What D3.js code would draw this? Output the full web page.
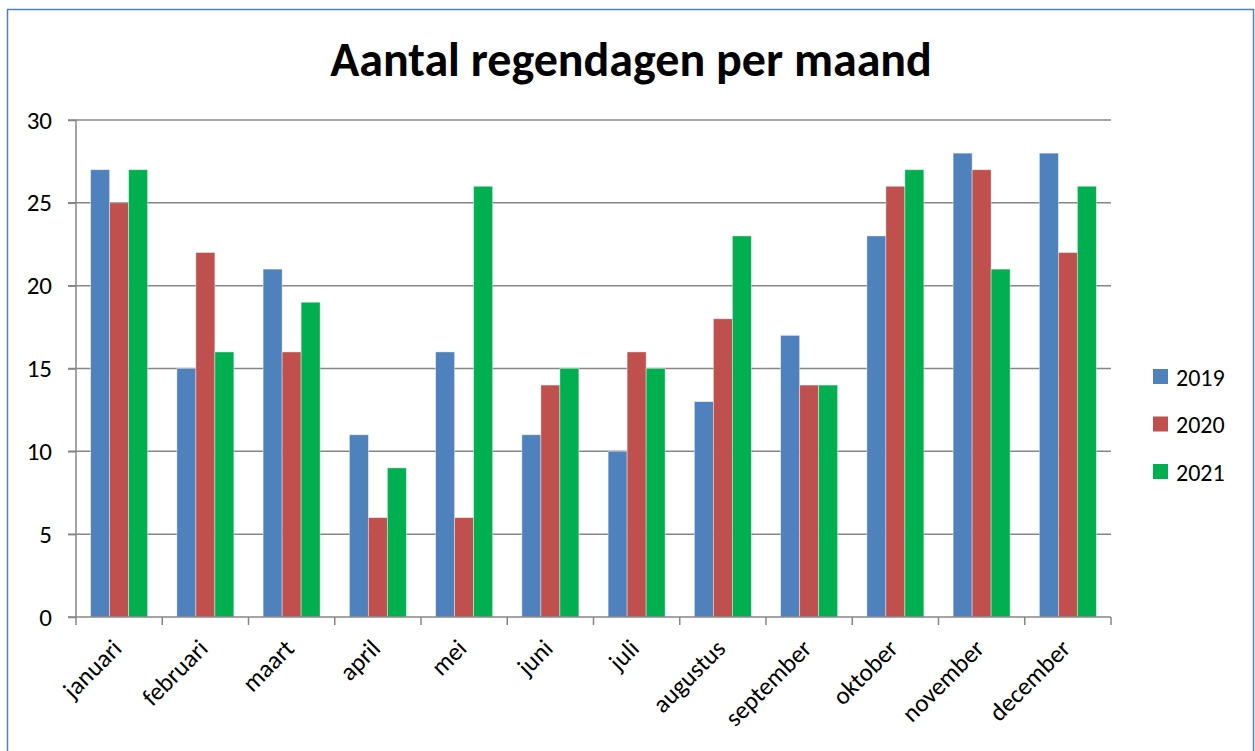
<!DOCTYPE html>
<meta charset="utf-8">
<title>Aantal regendagen per maand</title>
<script src="https://d3js.org/d3.v7.min.js"></script>
<style>
  body { margin: 0; background: #fff; }
  svg { display: block; }
  text { font-family: Carlito, Lato, "Open Sans", "Liberation Sans", sans-serif; fill: #000; }
  .title { font-weight: bold; font-size: 48px; }
  .tick text { font-size: 25px; }
  .legend text { font-size: 24px; }
</style>
<body>
<svg width="1255" height="751"></svg>
<script>
  var months = ["januari", "februari", "maart", "april", "mei", "juni", "juli",
    "augustus", "september", "oktober", "november", "december"];
  var years = ["2019", "2020", "2021"];
  var v2019 = [27, 15, 21, 11, 16, 11, 10, 13, 17, 23, 28, 28];
  var v2020 = [25, 22, 16, 6, 6, 14, 16, 18, 14, 26, 27, 22];
  var v2021 = [27, 16, 19, 9, 26, 15, 15, 23, 14, 27, 21, 26];
  var yTicks = [0, 5, 10, 15, 20, 25, 30];
  var colors = ["#4F81BD", "#C0504D", "#00B050"];

  var series = [v2019, v2020, v2021];
  var svg = d3.select("svg");

  // chart frame
  svg.append("rect")
    .attr("x", 7.5).attr("y", 9.5)
    .attr("width", 1246).attr("height", 760)
    .attr("fill", "none").attr("stroke", "#4F81BD").attr("stroke-width", 1.5);

  svg.append("text").attr("class", "title")
    .attr("x", 631).attr("y", 76)
    .attr("text-anchor", "middle")
    .text("Aantal regendagen per maand");

  var pLeft = 76, pRight = 1111, pTop = 120, pBottom = 617;

  var x = d3.scaleBand().domain(months).range([pLeft, pRight]);
  var x1 = d3.scaleBand().domain(years).range([0, x.bandwidth()]).paddingOuter(0.77).paddingInner(0);
  var y = d3.scaleLinear().domain([0, 30]).range([pBottom, pTop]);

  // gridlines
  svg.append("g").selectAll("line")
    .data(yTicks.filter(function (d) { return d > 0; }))
    .enter().append("line")
    .attr("x1", pLeft - 8).attr("x2", pRight)
    .attr("y1", function (d) { return y(d); })
    .attr("y2", function (d) { return y(d); })
    .attr("stroke", "#868686").attr("stroke-width", 1.5);

  // bars
  svg.append("g").selectAll("g")
    .data(months)
    .enter().append("g")
    .attr("transform", function (d) { return "translate(" + x(d) + ",0)"; })
    .selectAll("rect")
    .data(function (d, i) { return series.map(function (s, j) { return { year: years[j], value: s[i], c: colors[j] }; }); })
    .enter().append("rect")
    .attr("x", function (d) { return x1(d.year); })
    .attr("width", x1.bandwidth())
    .attr("y", function (d) { return y(d.value); })
    .attr("height", function (d) { return pBottom - y(d.value); })
    .attr("fill", function (d) { return d.c; })
    .attr("stroke", "#fff").attr("stroke-opacity", 0.5).attr("stroke-width", 0.8);

  // y axis
  var yAxis = svg.append("g")
    .attr("transform", "translate(" + pLeft + ",0)")
    .call(d3.axisLeft(y).tickValues(yTicks).tickSize(8).tickPadding(16));
  yAxis.selectAll("line,path").attr("stroke", "#868686").attr("stroke-width", 1.5);
  yAxis.select(".domain").attr("d", "M0," + pTop + "V" + pBottom);

  // x axis
  var xAxis = svg.append("g")
    .attr("transform", "translate(0," + pBottom + ")");
  xAxis.append("line")
    .attr("x1", pLeft - 8).attr("x2", pRight)
    .attr("stroke", "#868686").attr("stroke-width", 1.5);
  xAxis.selectAll(".xt")
    .data(months.map(function (m) { return x(m); }).concat([pRight]))
    .enter().append("line")
    .attr("x1", function (d) { return d; }).attr("x2", function (d) { return d; })
    .attr("y1", 0).attr("y2", 8)
    .attr("stroke", "#868686").attr("stroke-width", 1.5);
  xAxis.selectAll(".lbl")
    .data(months)
    .enter().append("text")
    .style("font-size", "25px")
    .attr("text-anchor", "end")
    .attr("transform", function (d) {
      return "translate(" + (x(d) + x.bandwidth() / 2 + 4) + ",33) rotate(-45)";
    })
    .text(function (d) { return d; });

  // legend
  var legend = svg.append("g").attr("class", "legend")
    .selectAll("g")
    .data(years)
    .enter().append("g")
    .attr("transform", function (d, i) { return "translate(1153," + (369 + i * 47.5) + ")"; });
  legend.append("rect")
    .attr("width", 15).attr("height", 15)
    .attr("fill", function (d, i) { return colors[i]; });
  legend.append("text")
    .attr("x", 23).attr("y", 8).attr("dy", "0.36em")
    .text(function (d) { return d; });
</script>
</body>
